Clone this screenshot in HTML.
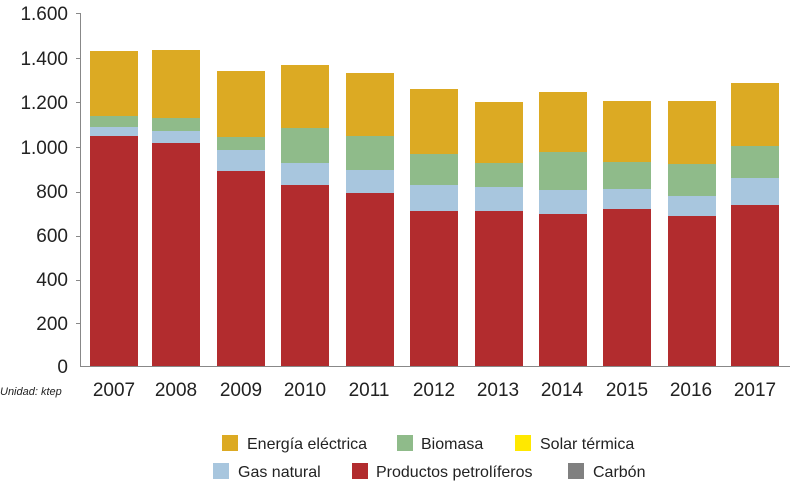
<!DOCTYPE html>
<html><head><meta charset="utf-8"><style>
html,body{margin:0;padding:0;background:#fff}
text{font-family:"Liberation Sans",sans-serif;fill:#222}
</style></head><body>
<svg width="792" height="482" viewBox="0 0 792 482" xmlns="http://www.w3.org/2000/svg">
<g font-size="19" text-anchor="end">
<text x="68" y="373">0</text><text x="68" y="330">200</text><text x="68" y="286">400</text><text x="68" y="242">600</text><text x="68" y="198">800</text><text x="68" y="154">1.000</text><text x="68" y="109">1.200</text><text x="68" y="65">1.400</text><text x="68" y="20">1.600</text>
</g>
<g stroke="#888" stroke-width="1">
<line x1="80.5" y1="13" x2="80.5" y2="366"/>
<line x1="76" y1="13.5" x2="80" y2="13.5"/><line x1="76" y1="58.5" x2="80" y2="58.5"/><line x1="76" y1="102.5" x2="80" y2="102.5"/><line x1="76" y1="147.5" x2="80" y2="147.5"/><line x1="76" y1="192.5" x2="80" y2="192.5"/><line x1="76" y1="236.5" x2="80" y2="236.5"/><line x1="76" y1="280.5" x2="80" y2="280.5"/><line x1="76" y1="323.5" x2="80" y2="323.5"/>
<line x1="80" y1="366.5" x2="790" y2="366.5"/>
</g>
<g>
<rect x="90" y="51" width="48" height="65" fill="#dcaa23"/><rect x="90" y="116" width="48" height="11" fill="#8fbb8a"/><rect x="90" y="127" width="48" height="9" fill="#a8c6de"/><rect x="90" y="136" width="48" height="230" fill="#b22c2e"/>
<rect x="152" y="50" width="48" height="68" fill="#dcaa23"/><rect x="152" y="118" width="48" height="13" fill="#8fbb8a"/><rect x="152" y="131" width="48" height="12" fill="#a8c6de"/><rect x="152" y="143" width="48" height="223" fill="#b22c2e"/>
<rect x="217" y="71" width="48" height="66" fill="#dcaa23"/><rect x="217" y="137" width="48" height="13" fill="#8fbb8a"/><rect x="217" y="150" width="48" height="21" fill="#a8c6de"/><rect x="217" y="171" width="48" height="195" fill="#b22c2e"/>
<rect x="281" y="65" width="48" height="63" fill="#dcaa23"/><rect x="281" y="128" width="48" height="35" fill="#8fbb8a"/><rect x="281" y="163" width="48" height="22" fill="#a8c6de"/><rect x="281" y="185" width="48" height="181" fill="#b22c2e"/>
<rect x="346" y="73" width="48" height="63" fill="#dcaa23"/><rect x="346" y="136" width="48" height="34" fill="#8fbb8a"/><rect x="346" y="170" width="48" height="23" fill="#a8c6de"/><rect x="346" y="193" width="48" height="173" fill="#b22c2e"/>
<rect x="410" y="89" width="48" height="65" fill="#dcaa23"/><rect x="410" y="154" width="48" height="31" fill="#8fbb8a"/><rect x="410" y="185" width="48" height="26" fill="#a8c6de"/><rect x="410" y="211" width="48" height="155" fill="#b22c2e"/>
<rect x="475" y="102" width="48" height="61" fill="#dcaa23"/><rect x="475" y="163" width="48" height="24" fill="#8fbb8a"/><rect x="475" y="187" width="48" height="24" fill="#a8c6de"/><rect x="475" y="211" width="48" height="155" fill="#b22c2e"/>
<rect x="539" y="92" width="48" height="60" fill="#dcaa23"/><rect x="539" y="152" width="48" height="38" fill="#8fbb8a"/><rect x="539" y="190" width="48" height="24" fill="#a8c6de"/><rect x="539" y="214" width="48" height="152" fill="#b22c2e"/>
<rect x="603" y="101" width="48" height="61" fill="#dcaa23"/><rect x="603" y="162" width="48" height="27" fill="#8fbb8a"/><rect x="603" y="189" width="48" height="20" fill="#a8c6de"/><rect x="603" y="209" width="48" height="157" fill="#b22c2e"/>
<rect x="668" y="101" width="48" height="63" fill="#dcaa23"/><rect x="668" y="164" width="48" height="32" fill="#8fbb8a"/><rect x="668" y="196" width="48" height="20" fill="#a8c6de"/><rect x="668" y="216" width="48" height="150" fill="#b22c2e"/>
<rect x="731" y="83" width="48" height="63" fill="#dcaa23"/><rect x="731" y="146" width="48" height="32" fill="#8fbb8a"/><rect x="731" y="178" width="48" height="27" fill="#a8c6de"/><rect x="731" y="205" width="48" height="161" fill="#b22c2e"/>
</g>
<g font-size="19" text-anchor="middle">
<text x="114" y="396">2007</text><text x="176" y="396">2008</text><text x="241" y="396">2009</text><text x="305" y="396">2010</text><text x="369" y="396">2011</text><text x="434" y="396">2012</text><text x="498" y="396">2013</text><text x="562" y="396">2014</text><text x="627" y="396">2015</text><text x="691" y="396">2016</text><text x="755" y="396">2017</text>
</g>
<text x="0" y="395" font-size="11" font-style="italic">Unidad: ktep</text>
<g font-size="16">
<rect x="222" y="435" width="16" height="16" fill="#dcaa23"/><text x="247" y="449">Energía eléctrica</text>
<rect x="397" y="435" width="16" height="16" fill="#8fbb8a"/><text x="421" y="449">Biomasa</text>
<rect x="515" y="435" width="16" height="16" fill="#ffe800"/><text x="540" y="449">Solar térmica</text>
<rect x="213" y="463" width="16" height="16" fill="#a8c6de"/><text x="238" y="477">Gas natural</text>
<rect x="352" y="463" width="16" height="16" fill="#b22c2e"/><text x="376" y="477">Productos petrolíferos</text>
<rect x="568" y="463" width="16" height="16" fill="#808080"/><text x="593" y="477">Carbón</text>
</g>
</svg>
</body></html>
